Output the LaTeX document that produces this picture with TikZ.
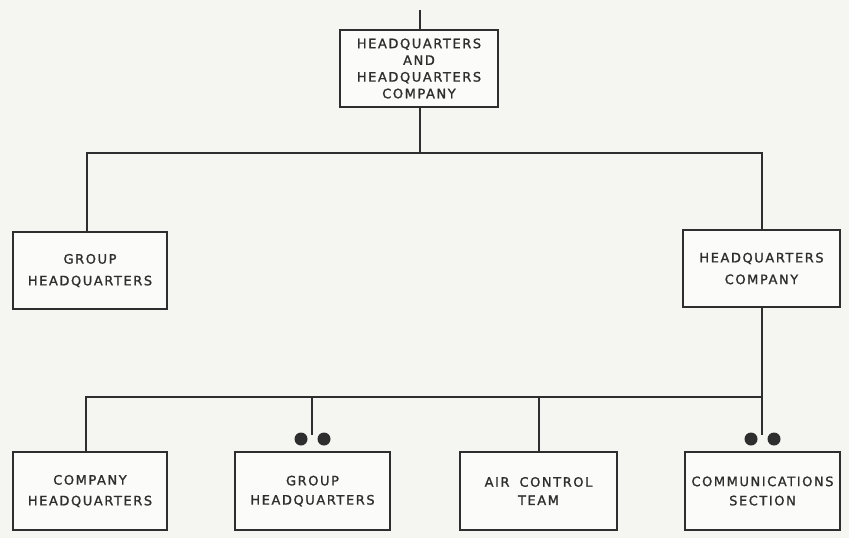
\documentclass[tikz,border=0pt]{standalone}
\usepackage{fontspec}
\setmainfont{DejaVu Sans}[LetterSpace=12,FakeBold=1.2]
\definecolor{ink}{HTML}{2E2E2E}
\definecolor{paper}{HTML}{F5F5F2}
\begin{document}
\begin{tikzpicture}[x=1pt,y=-1pt,
  box/.style={draw=ink,line width=1.8pt,fill=white!60!paper,align=center,
    inner sep=0pt,font=\fontsize{13}{16.7}\selectfont,text=ink},
  wire/.style={draw=ink,line width=1.7pt},
  dot/.style={circle,fill=ink,inner sep=0pt,minimum size=13pt}]
\fill[paper] (0,0) rectangle (849,538);
\useasboundingbox (0,0) rectangle (849,538);
\node[box,minimum width=158pt,minimum height=77pt] (top) at (419,68.5)
  {HEADQUARTERS\\AND\\HEADQUARTERS\\COMPANY};
\node[box,minimum width=154pt,minimum height=77pt] (gh) at (90,270.5)
  {GROUP\\[5pt]HEADQUARTERS};
\node[box,minimum width=157pt,minimum height=77pt] (hqc) at (761.5,268.5)
  {HEADQUARTERS\\[5pt]COMPANY};
\node[box,minimum width=154pt,minimum height=78pt] (chq) at (90,491)
  {COMPANY\\[4pt]HEADQUARTERS};
\node[box,minimum width=155pt,minimum height=78pt] (ghq) at (312.5,491)
  {GROUP\\[2.5pt]HEADQUARTERS};
\node[box,minimum width=157pt,minimum height=78pt] (act) at (538.5,491)
  {AIR\hspace{10pt}CONTROL\\[1.5pt]TEAM};
\node[box,minimum width=155pt,minimum height=78pt] (cs) at (762.5,491)
  {COMMUNICATIONS\\[2.5pt]SECTION};
\coordinate (in) at (420,10);
\coordinate (b1L) at (87,153);
\coordinate (b1R) at (762,153);
\coordinate (b2L) at (86,397);
\coordinate (b2M) at (539,397);
\coordinate (b2R) at (762,397);
\coordinate (gEnd) at (312,435);
\coordinate (cEnd) at (762,435);
\node[dot] (gd1) at (301,439) {};
\node[dot] (gd2) at (324,439) {};
\node[dot] (cd1) at (751,439) {};
\node[dot] (cd2) at (774,439) {};
\draw[wire] (in) -- (top.north -| in);
\draw[wire] (top.south -| in) -- (b1L -| in);
\draw[wire] (gh.north -| b1L) -- (b1L) -- (b1R) -- (hqc.north -| b1R);
\draw[wire] (hqc.south -| b2R) -- (b2R) -- (b2L) -- (chq.north -| b2L);
\draw[wire] (gEnd |- b2L) -- (gEnd);
\draw[wire] (act.north -| b2M) -- (b2M);
\draw[wire] (b2R) -- (cEnd);
\end{tikzpicture}
\end{document}
